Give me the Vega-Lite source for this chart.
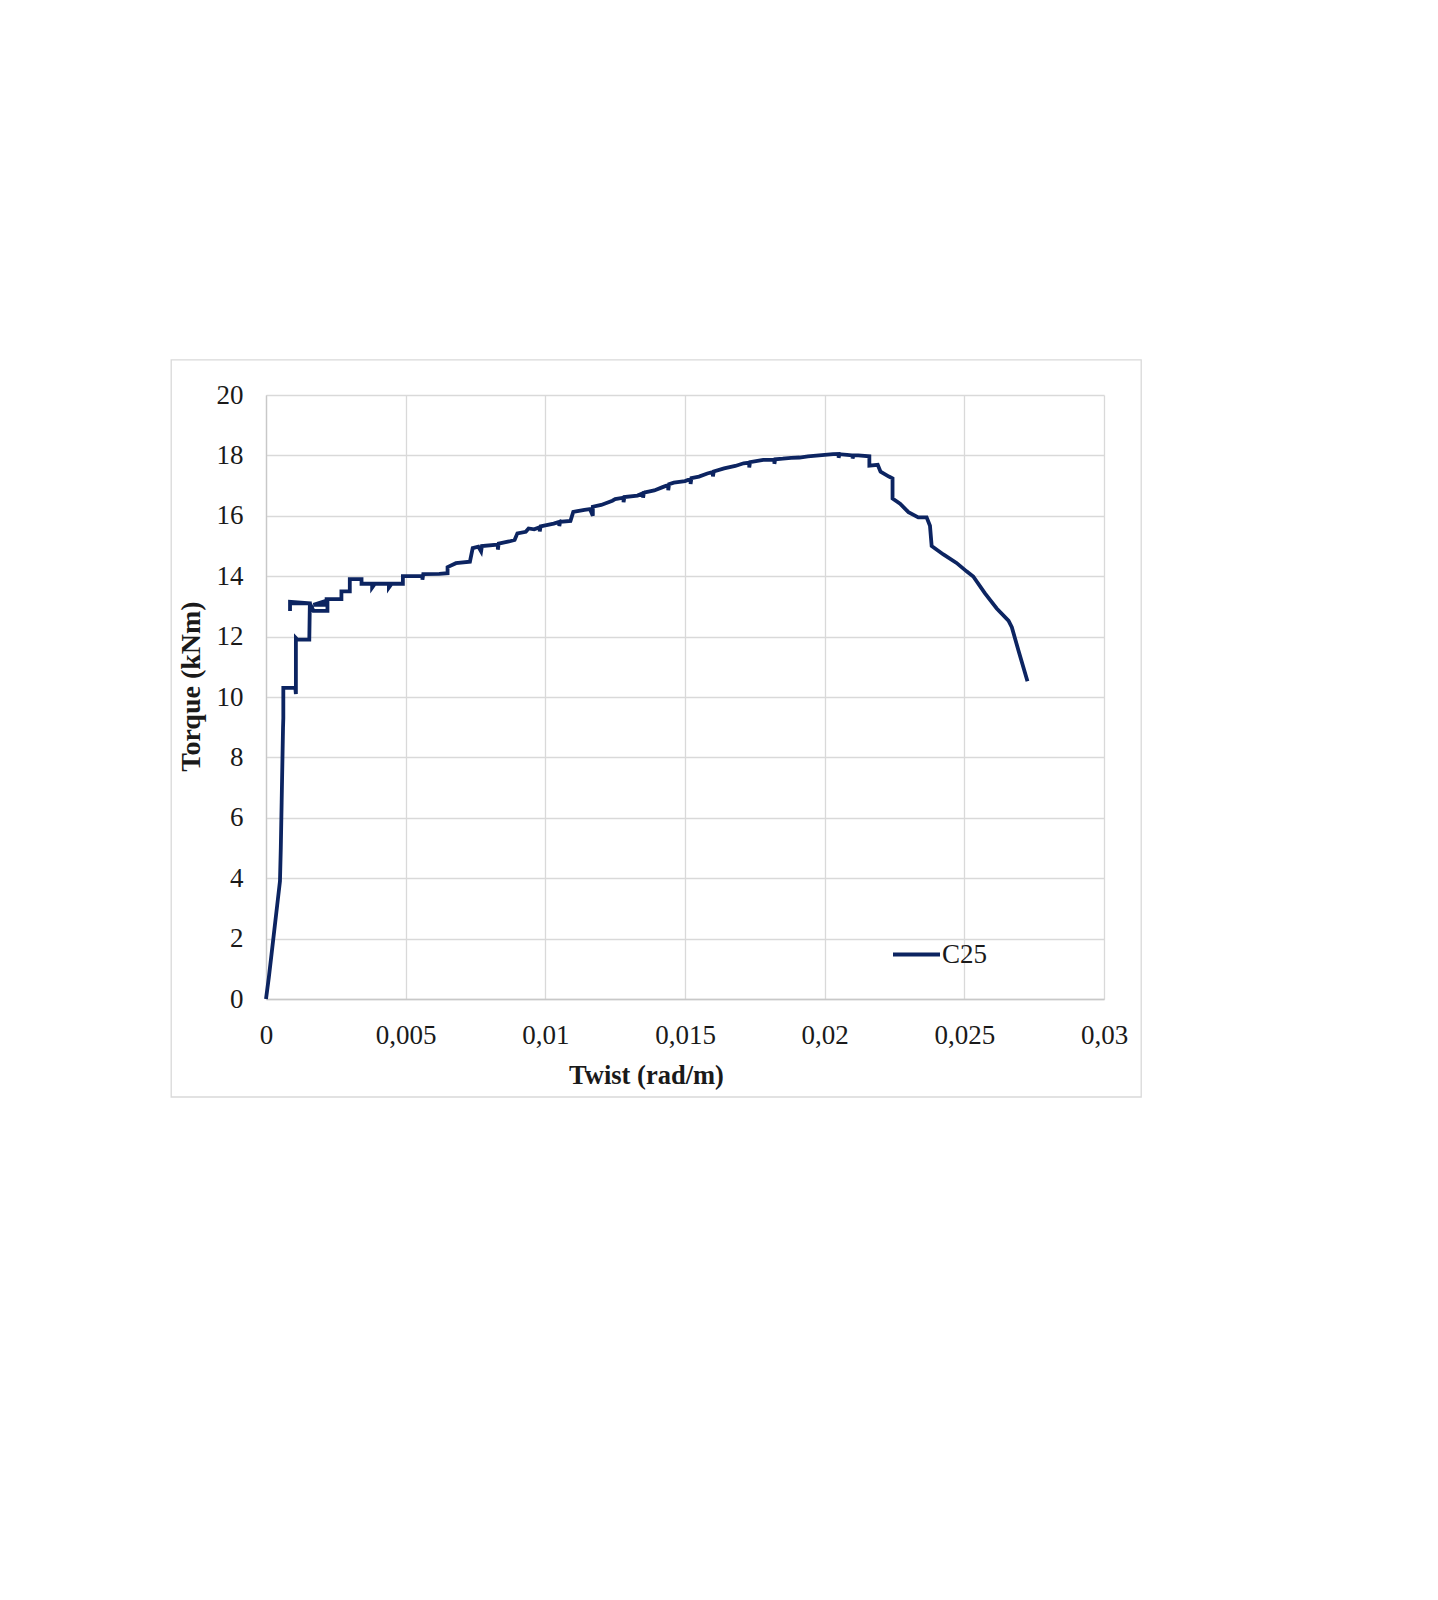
{
  "$schema": "https://vega.github.io/schema/vega-lite/v6.json",
  "description": "Torque vs twist curve for specimen C25",
  "autosize": {"type": "none"},
  "width": 838,
  "height": 604,
  "padding": {"left": 266, "top": 395, "right": 334, "bottom": 601},
  "background": "white",
  "config": {
    "font": "Liberation Serif",
    "view": {"stroke": null},
    "axis": {
      "grid": true,
      "labelFont": "Liberation Serif",
      "titleFont": "Liberation Serif",
      "labelFontSize": 27,
      "titleFontSize": 27,
      "labelColor": "#1a1a1a",
      "titleColor": "#1a1a1a",
      "gridColor": "#d9d9d9",
      "gridWidth": 1.3,
      "domainColor": "#c8c8c8",
      "domainWidth": 1.3,
      "ticks": false
    }
  },
  "layer": [
    {
      "data": {"values": [{}]},
      "mark": {"type": "rect", "fill": null, "stroke": "#d9d9d9", "strokeWidth": 1.3, "clip": false},
      "encoding": {
        "x": {"datum": -0.003394, "type": "quantitative"},
        "x2": {"datum": 0.031332},
        "y": {"datum": 21.16, "type": "quantitative"},
        "y2": {"datum": -3.245}
      }
    },
    {
      "data": {
        "values": [
          {"series": "C25", "twist": 0, "torque": 0},
          {"series": "C25", "twist": 0.0001, "torque": 0.7},
          {"series": "C25", "twist": 0.0002, "torque": 1.5},
          {"series": "C25", "twist": 0.0003, "torque": 2.3},
          {"series": "C25", "twist": 0.0004, "torque": 3.1},
          {"series": "C25", "twist": 0.0005, "torque": 3.9},
          {"series": "C25", "twist": 0.00053, "torque": 5.0},
          {"series": "C25", "twist": 0.00056, "torque": 6.5},
          {"series": "C25", "twist": 0.00059, "torque": 8.0},
          {"series": "C25", "twist": 0.00061, "torque": 9.0},
          {"series": "C25", "twist": 0.00062, "torque": 9.3},
          {"series": "C25", "twist": 0.00062, "torque": 10.3},
          {"series": "C25", "twist": 0.00105, "torque": 10.3},
          {"series": "C25", "twist": 0.00107, "torque": 10.1},
          {"series": "C25", "twist": 0.00107, "torque": 11.95},
          {"series": "C25", "twist": 0.00112, "torque": 11.9},
          {"series": "C25", "twist": 0.00155, "torque": 11.9},
          {"series": "C25", "twist": 0.00157, "torque": 13.1},
          {"series": "C25", "twist": 0.00086, "torque": 13.1},
          {"series": "C25", "twist": 0.00086, "torque": 12.85},
          {"series": "C25", "twist": 0.00086, "torque": 13.15},
          {"series": "C25", "twist": 0.00157, "torque": 13.1},
          {"series": "C25", "twist": 0.0017, "torque": 12.85},
          {"series": "C25", "twist": 0.0022, "torque": 12.85},
          {"series": "C25", "twist": 0.0022, "torque": 13.2},
          {"series": "C25", "twist": 0.0017, "torque": 13.05},
          {"series": "C25", "twist": 0.00217, "torque": 13.05},
          {"series": "C25", "twist": 0.00217, "torque": 13.24},
          {"series": "C25", "twist": 0.0027, "torque": 13.24},
          {"series": "C25", "twist": 0.0027, "torque": 13.5},
          {"series": "C25", "twist": 0.003, "torque": 13.5},
          {"series": "C25", "twist": 0.003, "torque": 13.9},
          {"series": "C25", "twist": 0.00342, "torque": 13.9},
          {"series": "C25", "twist": 0.00342, "torque": 13.75},
          {"series": "C25", "twist": 0.0038, "torque": 13.75},
          {"series": "C25", "twist": 0.0038, "torque": 13.62},
          {"series": "C25", "twist": 0.0039, "torque": 13.75},
          {"series": "C25", "twist": 0.0044, "torque": 13.75},
          {"series": "C25", "twist": 0.0044, "torque": 13.62},
          {"series": "C25", "twist": 0.0045, "torque": 13.75},
          {"series": "C25", "twist": 0.0049, "torque": 13.75},
          {"series": "C25", "twist": 0.0049, "torque": 14.0},
          {"series": "C25", "twist": 0.0056, "torque": 14.0},
          {"series": "C25", "twist": 0.0056, "torque": 13.88},
          {"series": "C25", "twist": 0.00563, "torque": 14.07},
          {"series": "C25", "twist": 0.0062, "torque": 14.08},
          {"series": "C25", "twist": 0.0065, "torque": 14.1},
          {"series": "C25", "twist": 0.0065, "torque": 14.3},
          {"series": "C25", "twist": 0.0068, "torque": 14.43},
          {"series": "C25", "twist": 0.0073, "torque": 14.48},
          {"series": "C25", "twist": 0.0074, "torque": 14.93},
          {"series": "C25", "twist": 0.0076, "torque": 14.98},
          {"series": "C25", "twist": 0.0077, "torque": 14.82},
          {"series": "C25", "twist": 0.00773, "torque": 15.0},
          {"series": "C25", "twist": 0.0083, "torque": 15.05},
          {"series": "C25", "twist": 0.0083, "torque": 14.88},
          {"series": "C25", "twist": 0.00833, "torque": 15.08},
          {"series": "C25", "twist": 0.0087, "torque": 15.15},
          {"series": "C25", "twist": 0.0089, "torque": 15.2},
          {"series": "C25", "twist": 0.009, "torque": 15.42},
          {"series": "C25", "twist": 0.0093, "torque": 15.47},
          {"series": "C25", "twist": 0.0094, "torque": 15.58},
          {"series": "C25", "twist": 0.0096, "torque": 15.55},
          {"series": "C25", "twist": 0.0098, "torque": 15.62},
          {"series": "C25", "twist": 0.0098, "torque": 15.48},
          {"series": "C25", "twist": 0.00983, "torque": 15.65},
          {"series": "C25", "twist": 0.0103, "torque": 15.74},
          {"series": "C25", "twist": 0.0105, "torque": 15.8},
          {"series": "C25", "twist": 0.0105, "torque": 15.66},
          {"series": "C25", "twist": 0.01053, "torque": 15.8},
          {"series": "C25", "twist": 0.0109, "torque": 15.83},
          {"series": "C25", "twist": 0.011, "torque": 16.13},
          {"series": "C25", "twist": 0.0114, "torque": 16.2},
          {"series": "C25", "twist": 0.0116, "torque": 16.22},
          {"series": "C25", "twist": 0.0117, "torque": 16.0},
          {"series": "C25", "twist": 0.0117, "torque": 16.3},
          {"series": "C25", "twist": 0.012, "torque": 16.36},
          {"series": "C25", "twist": 0.0124, "torque": 16.5},
          {"series": "C25", "twist": 0.0125, "torque": 16.55},
          {"series": "C25", "twist": 0.0128, "torque": 16.6},
          {"series": "C25", "twist": 0.0128, "torque": 16.45},
          {"series": "C25", "twist": 0.01283, "torque": 16.62},
          {"series": "C25", "twist": 0.0133, "torque": 16.67},
          {"series": "C25", "twist": 0.0135, "torque": 16.75},
          {"series": "C25", "twist": 0.0135, "torque": 16.6},
          {"series": "C25", "twist": 0.01353, "torque": 16.77},
          {"series": "C25", "twist": 0.0139, "torque": 16.84},
          {"series": "C25", "twist": 0.0142, "torque": 16.95},
          {"series": "C25", "twist": 0.0144, "torque": 17.02},
          {"series": "C25", "twist": 0.0144, "torque": 16.85},
          {"series": "C25", "twist": 0.01443, "torque": 17.05},
          {"series": "C25", "twist": 0.0146, "torque": 17.1},
          {"series": "C25", "twist": 0.015, "torque": 17.15},
          {"series": "C25", "twist": 0.0152, "torque": 17.22},
          {"series": "C25", "twist": 0.0152, "torque": 17.05},
          {"series": "C25", "twist": 0.01523, "torque": 17.25},
          {"series": "C25", "twist": 0.0155, "torque": 17.3},
          {"series": "C25", "twist": 0.0158, "torque": 17.4},
          {"series": "C25", "twist": 0.016, "torque": 17.45},
          {"series": "C25", "twist": 0.016, "torque": 17.3},
          {"series": "C25", "twist": 0.01603, "torque": 17.47},
          {"series": "C25", "twist": 0.0164, "torque": 17.57},
          {"series": "C25", "twist": 0.0168, "torque": 17.65},
          {"series": "C25", "twist": 0.0171, "torque": 17.74},
          {"series": "C25", "twist": 0.0173, "torque": 17.76},
          {"series": "C25", "twist": 0.0173, "torque": 17.6},
          {"series": "C25", "twist": 0.01733, "torque": 17.78},
          {"series": "C25", "twist": 0.0178, "torque": 17.85},
          {"series": "C25", "twist": 0.0182, "torque": 17.85},
          {"series": "C25", "twist": 0.0182, "torque": 17.72},
          {"series": "C25", "twist": 0.01823, "torque": 17.87},
          {"series": "C25", "twist": 0.0185, "torque": 17.89},
          {"series": "C25", "twist": 0.0188, "torque": 17.92},
          {"series": "C25", "twist": 0.0191, "torque": 17.93},
          {"series": "C25", "twist": 0.0194, "torque": 17.97},
          {"series": "C25", "twist": 0.0198, "torque": 18.0},
          {"series": "C25", "twist": 0.0203, "torque": 18.04},
          {"series": "C25", "twist": 0.0205, "torque": 18.05},
          {"series": "C25", "twist": 0.0205, "torque": 17.92},
          {"series": "C25", "twist": 0.02053, "torque": 18.04},
          {"series": "C25", "twist": 0.0208, "torque": 18.02},
          {"series": "C25", "twist": 0.021, "torque": 18.0},
          {"series": "C25", "twist": 0.021, "torque": 17.9},
          {"series": "C25", "twist": 0.02103, "torque": 18.0},
          {"series": "C25", "twist": 0.0212, "torque": 18.0},
          {"series": "C25", "twist": 0.0216, "torque": 17.97},
          {"series": "C25", "twist": 0.0216, "torque": 17.66},
          {"series": "C25", "twist": 0.0219, "torque": 17.69},
          {"series": "C25", "twist": 0.022, "torque": 17.46},
          {"series": "C25", "twist": 0.0223, "torque": 17.3},
          {"series": "C25", "twist": 0.02243, "torque": 17.24},
          {"series": "C25", "twist": 0.02243, "torque": 16.57},
          {"series": "C25", "twist": 0.0227, "torque": 16.4},
          {"series": "C25", "twist": 0.023, "torque": 16.12},
          {"series": "C25", "twist": 0.02335, "torque": 15.95},
          {"series": "C25", "twist": 0.02365, "torque": 15.95},
          {"series": "C25", "twist": 0.02377, "torque": 15.67},
          {"series": "C25", "twist": 0.02383, "torque": 15.0},
          {"series": "C25", "twist": 0.02425, "torque": 14.72},
          {"series": "C25", "twist": 0.02472, "torque": 14.44},
          {"series": "C25", "twist": 0.02508, "torque": 14.16},
          {"series": "C25", "twist": 0.02532, "torque": 13.99},
          {"series": "C25", "twist": 0.02574, "torque": 13.43},
          {"series": "C25", "twist": 0.02616, "torque": 12.93},
          {"series": "C25", "twist": 0.02658, "torque": 12.53},
          {"series": "C25", "twist": 0.0267, "torque": 12.31},
          {"series": "C25", "twist": 0.02694, "torque": 11.53},
          {"series": "C25", "twist": 0.02726, "torque": 10.52}
        ]
      },
      "mark": {"type": "line", "strokeWidth": 3.8, "strokeJoin": "miter"},
      "encoding": {
        "x": {
          "field": "twist",
          "type": "quantitative",
          "title": "Twist (rad/m)",
          "scale": {"domain": [0, 0.03], "nice": false, "zero": false},
          "axis": {
            "grid": true,
            "values": [0, 0.005, 0.01, 0.015, 0.02, 0.025, 0.03],
            "labelExpr": "replace(toString(datum.value), '.', ',')",
            "labelPadding": 23,
            "labelFlush": false,
            "titleFontWeight": "bold",
            "titleFontSize": 26.5,
            "titleX": 380,
            "titleAlign": "center",
            "titlePadding": 14
          }
        },
        "y": {
          "field": "torque",
          "type": "quantitative",
          "title": "Torque (kNm)",
          "scale": {"domain": [0, 20], "nice": false},
          "axis": {
            "grid": true,
            "values": [0, 2, 4, 6, 8, 10, 12, 14, 16, 18, 20],
            "labelPadding": 23,
            "titleFontWeight": "bold",
            "titleFontSize": 28,
            "titleY": 291,
            "titleAlign": "center",
            "titlePadding": 11
          }
        },
        "order": {"value": null},
        "color": {
          "field": "series",
          "type": "nominal",
          "scale": {"range": ["#0c2461"]},
          "legend": {
            "title": null,
            "orient": "none",
            "legendX": 625,
            "legendY": 534,
            "symbolType": "stroke",
            "symbolSize": 2209,
            "symbolStrokeWidth": 3.8,
            "labelFont": "Liberation Serif",
            "labelFontSize": 27,
            "labelColor": "#1a1a1a",
            "labelOffset": 0
          }
        }
      }
    }
  ]
}
